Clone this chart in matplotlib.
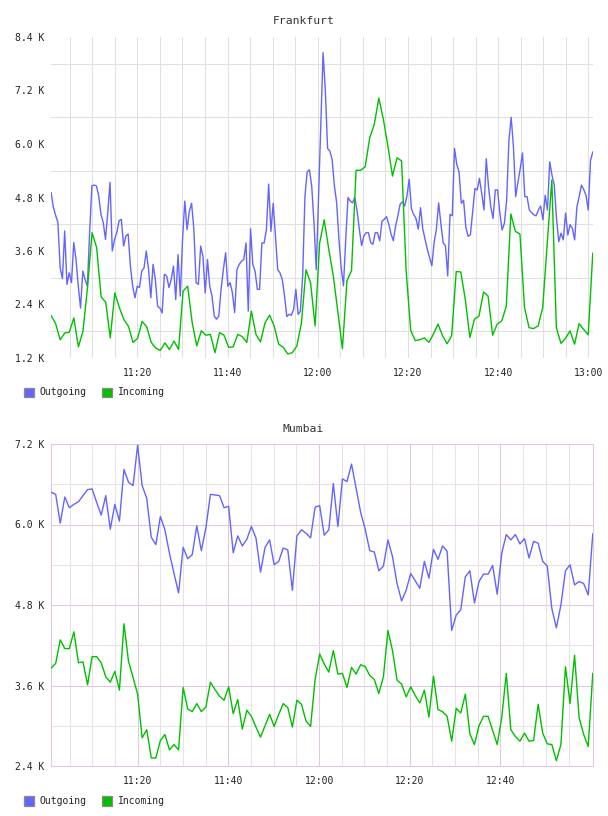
import numpy as np
import matplotlib
matplotlib.use("Agg")
import matplotlib.pyplot as plt
from matplotlib.patches import Rectangle

plt.rcParams['font.family'] = ['DejaVu Sans Mono', 'DejaVu Sans']

# ---------------- data (values in thousands) ----------------
series_names = ['Outgoing', 'Incoming']

# Frankfurt, outgoing sampled every 30 s
frankfurt_outgoing = [
    4.91, 4.58, 4.40, 4.24, 3.22, 2.98, 4.05, 2.85, 3.11, 2.89,
    3.79, 3.41, 2.81, 2.32, 3.15, 2.96, 2.81, 4.01, 5.06, 5.08,
    5.06, 4.84, 4.42, 4.24, 3.86, 4.46, 5.14, 3.60, 3.86, 4.01,
    4.28, 4.31, 3.71, 3.94, 3.98, 3.26, 2.81, 2.55, 2.81, 2.78,
    3.15, 3.22, 3.60, 3.19, 2.55, 3.30, 2.96, 2.36, 2.32, 2.21,
    3.08, 3.04, 2.78, 2.96, 3.26, 2.51, 3.52, 2.59, 3.86, 4.72,
    4.08, 4.49, 4.67, 4.08, 2.89, 2.85, 3.71, 3.48, 2.66, 3.41,
    2.81, 2.59, 2.14, 2.07, 2.14, 2.74, 3.18, 3.56, 2.81, 2.89,
    2.66, 2.22, 3.18, 3.30, 3.37, 3.41, 3.78, 2.25, 4.10, 3.30,
    3.15, 2.74, 2.74, 3.78, 3.78, 4.08, 5.10, 4.04, 4.67, 3.93,
    3.18, 3.11, 2.96, 2.59, 2.13, 2.18, 2.16, 2.29, 2.74, 2.18,
    2.25, 3.04, 4.82, 5.38, 5.42, 5.05, 4.23, 3.18, 4.82, 6.50,
    8.05, 7.20, 5.90, 5.84, 5.65, 5.06, 4.68, 3.86, 3.23, 2.82,
    3.86, 4.80, 4.72, 4.68, 4.80, 4.50, 4.09, 3.72, 3.94, 4.01,
    4.01, 3.79, 3.75, 4.01, 4.01, 3.83, 4.27, 4.31, 4.37, 4.20,
    3.98, 3.83, 4.16, 4.39, 4.65, 4.70, 4.61, 4.83, 5.21, 4.54,
    4.42, 4.33, 4.09, 4.57, 4.09, 3.86, 3.64, 3.45, 3.27, 3.79,
    4.09, 4.68, 4.20, 3.78, 3.72, 3.04, 4.42, 4.39, 5.90, 5.54,
    5.37, 4.67, 4.74, 4.13, 3.93, 3.96, 4.48, 5.00, 4.97, 5.23,
    4.89, 4.52, 5.67, 5.04, 4.59, 4.33, 4.97, 4.97, 4.45, 4.07,
    4.22, 4.74, 6.08, 6.60, 5.93, 4.82, 5.15, 5.45, 5.80, 4.82,
    4.82, 4.52, 4.46, 4.41, 4.39, 4.52, 4.61, 4.30, 4.85, 4.52,
    5.60, 5.30, 5.08, 4.33, 3.81, 4.00, 3.85, 4.45, 3.96, 4.19,
    4.11, 3.85, 4.59, 4.82, 5.08, 4.98, 4.85, 4.52, 5.63, 5.82,
]

# Frankfurt, incoming sampled every minute
frankfurt_incoming = [
    2.15, 1.97, 1.61, 1.76, 1.78, 2.10, 1.45, 1.80, 2.78, 4.01,
    3.68, 2.57, 2.45, 1.65, 2.66, 2.33, 2.06, 1.91, 1.55, 1.64,
    2.02, 1.90, 1.55, 1.42, 1.37, 1.54, 1.39, 1.58, 1.39, 2.70,
    2.81, 1.99, 1.47, 1.81, 1.71, 1.73, 1.32, 1.77, 1.71, 1.44,
    1.45, 1.73, 1.68, 1.55, 2.25, 1.73, 1.56, 1.99, 2.16, 1.92,
    1.51, 1.44, 1.29, 1.32, 1.47, 1.99, 3.18, 2.89, 1.92, 3.78,
    4.30, 3.64, 3.04, 2.23, 1.41, 2.93, 3.16, 5.41, 5.41, 5.49,
    6.14, 6.44, 7.03, 6.55, 5.95, 5.28, 5.69, 5.62, 3.16, 1.82,
    1.59, 1.61, 1.65, 1.55, 1.74, 1.96, 1.70, 1.52, 1.70, 3.14,
    3.13, 2.51, 1.66, 2.07, 2.14, 2.68, 2.59, 1.71, 1.96, 2.03,
    2.36, 4.43, 4.04, 3.98, 2.33, 1.88, 1.86, 1.92, 2.33, 3.78,
    5.19, 1.88, 1.53, 1.64, 1.81, 1.51, 1.97, 1.84, 1.72, 3.55,
]

# Mumbai, both sampled every minute
mumbai_outgoing = [
    6.48, 6.45, 6.02, 6.41, 6.25, 6.30, 6.34, 6.43, 6.52, 6.53,
    6.33, 6.14, 6.43, 5.93, 6.30, 6.05, 6.82, 6.63, 6.58, 7.18,
    6.58, 6.39, 5.81, 5.70, 6.12, 5.92, 5.57, 5.27, 4.98, 5.66,
    5.49, 5.55, 5.98, 5.61, 5.95, 6.45, 6.44, 6.43, 6.25, 6.27,
    5.58, 5.83, 5.68, 5.78, 5.97, 5.80, 5.29, 5.66, 5.77, 5.40,
    5.45, 5.65, 5.62, 5.02, 5.83, 5.92, 5.87, 5.80, 6.26, 6.28,
    5.84, 5.92, 6.61, 5.97, 6.68, 6.64, 6.90, 6.54, 6.18, 5.93,
    5.61, 5.59, 5.31, 5.38, 5.77, 5.52, 5.12, 4.86, 5.02, 5.27,
    5.16, 5.05, 5.45, 5.20, 5.63, 5.48, 5.68, 5.60, 4.42, 4.65,
    4.73, 5.22, 5.31, 4.83, 5.15, 5.26, 5.26, 5.39, 4.96, 5.57,
    5.85, 5.77, 5.85, 5.71, 5.79, 5.50, 5.75, 5.72, 5.45, 5.38,
    4.75, 4.46, 4.80, 5.31, 5.40, 5.10, 5.15, 5.12, 4.95, 5.86,
]

mumbai_incoming = [
    3.86, 3.93, 4.28, 4.15, 4.15, 4.40, 3.94, 3.95, 3.61, 4.03,
    4.03, 3.94, 3.73, 3.65, 3.81, 3.53, 4.52, 3.96, 3.72, 3.47,
    2.82, 2.94, 2.52, 2.52, 2.78, 2.87, 2.64, 2.72, 2.64, 3.57,
    3.25, 3.21, 3.33, 3.21, 3.28, 3.65, 3.54, 3.44, 3.38, 3.58,
    3.18, 3.39, 2.95, 3.23, 3.14, 2.98, 2.83, 3.00, 3.17, 2.99,
    3.17, 3.33, 3.27, 2.98, 3.38, 3.32, 3.07, 2.99, 3.69, 4.07,
    3.92, 3.80, 4.12, 3.77, 3.78, 3.57, 3.87, 3.77, 3.91, 3.88,
    3.75, 3.69, 3.48, 3.73, 4.42, 4.12, 3.68, 3.62, 3.43, 3.58,
    3.45, 3.34, 3.53, 3.13, 3.74, 3.24, 3.21, 3.14, 2.77, 3.26,
    3.19, 3.47, 2.88, 2.72, 3.00, 3.14, 3.14, 2.93, 2.72, 3.12,
    3.78, 2.94, 2.84, 2.77, 2.89, 2.77, 2.78, 3.32, 2.89, 2.73,
    2.72, 2.48, 2.72, 3.88, 3.33, 4.05, 3.12, 2.87, 2.69, 3.78,
]

# time axis: minutes after 11:00
frankfurt_ticks = [20, 40, 60, 80, 100, 120]
frankfurt_tick_labels = ['11:20', '11:40', '12:00', '12:20', '12:40', '13:00']
mumbai_ticks = [20, 40, 60, 80, 100]
mumbai_tick_labels = ['11:20', '11:40', '12:00', '12:20', '12:40']
frankfurt_yticks = [1.2, 2.4, 3.6, 4.8, 6.0, 7.2, 8.4]
mumbai_yticks = [2.4, 3.6, 4.8, 6.0, 7.2]

# ---------------- styling / layout ----------------
W, H = 608, 816
BLUE = '#6464ff'
GREEN = '#00c000'
GRID = '#e0e0e0'
PINK = '#e0c8e0'
MINOR_B = '#e8e2e8'
TXT = '#222222'
GLW = 0.75

fig = plt.figure(figsize=(W / 100, H / 100), dpi=100)
fig.patch.set_facecolor('white')


def box(l, t, r, b):
    return [l / W, 1 - b / H, (r - l) / W, (b - t) / H]


def draw_lines(ax, span, out, inc):
    t_out = np.linspace(span[0], span[1], len(out))
    t_in = np.linspace(span[0], span[1], len(inc))
    ax.plot(t_out, out, color=BLUE, lw=1.0, zorder=3, solid_joinstyle='round')
    ax.plot(t_in, inc, color=GREEN, lw=1.0, zorder=4, solid_joinstyle='round')


def legend(y):
    for xs, xt, name, col in zip([24.3, 102.3], [39.0, 118.3], series_names, [BLUE, GREEN]):
        fig.add_artist(Rectangle((xs / W, 1 - (y + 5) / H), 10 / W, 10 / H,
                                 transform=fig.transFigure, facecolor=col,
                                 edgecolor='#8a8a8a', lw=0.9))
        fig.text(xt / W, 1 - y / H, name, ha='left', va='center',
                 fontsize=7, color=TXT)


def fmt(v):
    return f"{v:.1f} K"


# ---- Frankfurt ----
ax1 = fig.add_axes(box(51, 37, 593, 358))
span1 = (0.9, 120.95)
draw_lines(ax1, span1, frankfurt_outgoing, frankfurt_incoming)
ax1.set_xlim(0.88, 121.0)
ax1.set_ylim(frankfurt_yticks[0], frankfurt_yticks[-1])
ax1.set_xticks(frankfurt_ticks)
ax1.set_xticklabels(frankfurt_tick_labels)
ax1.set_xticks(np.arange(5, 121, 5), minor=True)
ax1.set_yticks(frankfurt_yticks)
ax1.set_yticklabels([fmt(v) for v in frankfurt_yticks])
ax1.set_yticks(np.array(frankfurt_yticks[:-1]) + 0.6, minor=True)
ax1.grid(axis='x', which='both', color=GRID, lw=GLW)
ax1.grid(axis='y', which='minor', color=GRID, lw=GLW)
ax1.grid(axis='y', which='major', visible=False)
ax1.set_axisbelow(True)
for s in ax1.spines.values():
    s.set_visible(False)
ax1.tick_params(which='both', length=0, labelsize=7, labelcolor=TXT)
ax1.tick_params(axis='y', pad=5)
ax1.tick_params(axis='x', pad=7.5)
fig.text(303.5 / W, 1 - 20.5 / H, 'Frankfurt', ha='center', va='center',
         fontsize=8.2, color='#333333')
legend(392.5)

# ---- Mumbai ----
ax2 = fig.add_axes(box(51, 444, 593, 766))
span2 = (0.9, 120.35)
draw_lines(ax2, span2, mumbai_outgoing, mumbai_incoming)
ax2.set_xlim(0.87, 120.4)
ax2.set_ylim(mumbai_yticks[0], mumbai_yticks[-1])
ax2.set_xticks(mumbai_ticks)
ax2.set_xticklabels(mumbai_tick_labels)
ax2.set_xticks(np.arange(5, 116, 5), minor=True)
ax2.set_yticks(mumbai_yticks)
ax2.set_yticklabels([fmt(v) for v in mumbai_yticks])
ax2.set_yticks(np.array(mumbai_yticks[:-1]) + 0.6, minor=True)
ax2.grid(which='major', color=PINK, lw=GLW)
ax2.grid(which='minor', color=MINOR_B, lw=GLW)
ax2.set_axisbelow(True)
for s in ax2.spines.values():
    s.set_color(PINK)
    s.set_linewidth(GLW)
ax2.tick_params(which='both', length=0, labelsize=7, labelcolor=TXT)
ax2.tick_params(axis='y', pad=5)
ax2.tick_params(axis='x', pad=7.5)
fig.text(303.0 / W, 1 - 428.5 / H, 'Mumbai', ha='center', va='center',
         fontsize=8.2, color='#333333')
legend(800.5)

fig.savefig('out.png', dpi=100, facecolor='white')
